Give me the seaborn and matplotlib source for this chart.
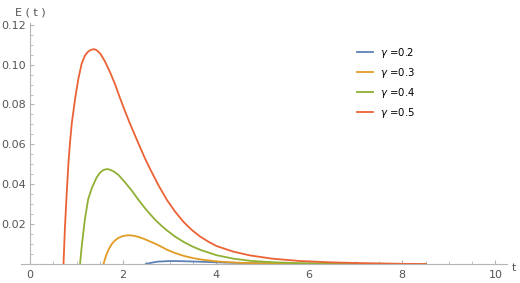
import pandas as pd
import seaborn as sb
import matplotlib.pyplot as plt
from matplotlib.ticker import MultipleLocator

# values
t_05 = [0.72, 0.75, 0.79, 0.824, 0.86, 0.90, 0.97, 1.04, 1.11, 1.18, 1.24, 1.30, 1.36,
        1.40, 1.45, 1.52, 1.61, 1.72, 1.83, 1.93, 2.04, 2.15, 2.26, 2.37, 2.47, 2.58,
        2.76, 2.94, 3.12, 3.30, 3.48, 3.66, 3.84, 4.01, 4.37, 4.73, 5.2, 5.8, 6.5, 7.2,
        8.0, 8.5]
e_05 = [0.0, 0.018, 0.036, 0.050, 0.061, 0.071, 0.083, 0.093, 0.1005, 0.1045, 0.1063,
        0.1073, 0.1077, 0.1076, 0.1069, 0.1052, 0.1016, 0.0962, 0.0900, 0.0835, 0.0767,
        0.0703, 0.0643, 0.0583, 0.0530, 0.0477, 0.0395, 0.0322, 0.0262, 0.0211, 0.0170,
        0.0137, 0.0111, 0.0090, 0.0062, 0.0043, 0.0027, 0.0015, 0.0008, 0.0004, 0.0001,
        0.0]

t_04 = [1.075, 1.11, 1.147, 1.18, 1.25, 1.33, 1.43, 1.50, 1.58, 1.66, 1.72, 1.80, 1.90,
        2.04, 2.19, 2.33, 2.47, 2.58, 2.69, 2.82, 2.94, 3.12, 3.30, 3.48, 3.66, 4.01,
        4.37, 4.73, 5.2, 5.8, 6.5, 8.5]
e_04 = [0.0, 0.0085, 0.016, 0.0225, 0.0325, 0.0382, 0.0433, 0.0457, 0.0472, 0.0476,
        0.0473, 0.0464, 0.0447, 0.0410, 0.0367, 0.0322, 0.0280, 0.0250, 0.0222, 0.0193,
        0.0169, 0.0137, 0.0111, 0.0089, 0.0071, 0.0044, 0.0027, 0.0016, 0.0009, 0.0004,
        0.0002, 0.0]

t_03 = [1.58, 1.61, 1.65, 1.70, 1.76, 1.83, 1.90, 1.98, 2.06, 2.14, 2.22, 2.33, 2.45,
        2.58, 2.69, 2.82, 2.94, 3.12, 3.30, 3.48, 3.66, 4.01, 4.5, 5.0, 6.0, 8.5]
e_03 = [0.0, 0.0025, 0.0052, 0.0078, 0.0101, 0.0119, 0.0131, 0.0139, 0.0143, 0.0144,
        0.0142, 0.0136, 0.0126, 0.0113, 0.0102, 0.0087, 0.0072, 0.0055, 0.0041, 0.0031,
        0.0023, 0.0013, 0.0006, 0.0003, 0.0001, 0.0]

t_02 = [2.49, 2.6, 2.75, 3.0, 3.3, 3.7, 4.2, 5.0, 6.0, 8.5]
e_02 = [0.0, 0.0006, 0.0012, 0.0015, 0.0014, 0.0011, 0.0007, 0.0003, 0.0001, 0.0]

gammas = ["0.2", "0.3", "0.4", "0.5"]
colors = ["#5E81B5", "#E19C24", "#8FB032", "#EB6235"]


def build_frame():
    parts = []
    for g, t, e in zip(gammas, [t_02, t_03, t_04, t_05], [e_02, e_03, e_04, e_05]):
        df = pd.DataFrame({"t": t, "E": e})
        df["gamma"] = r"$\gamma$ =" + g
        parts.append(df)
    return pd.concat(parts, ignore_index=True)


def main():
    data = build_frame()

    fig = plt.figure(figsize=(5.2, 2.83), dpi=100)
    ax = fig.add_axes([0.0398, 0.0671, 0.9352, 0.8505])

    sb.lineplot(
        data=data,
        x="t",
        y="E",
        hue="gamma",
        palette=colors,
        sort=False,
        estimator=None,
        linewidth=1.3,
        ax=ax,
    )

    ax.set_xlim(-0.2, 10.25)
    ax.set_ylim(0, 0.1207)

    axis_grey = "#b5b5b5"
    for side in ["top", "right"]:
        ax.spines[side].set_visible(False)
    ax.spines["left"].set_position(("data", 0))
    ax.spines["left"].set_color(axis_grey)
    ax.spines["bottom"].set_color(axis_grey)
    ax.spines["left"].set_linewidth(0.8)
    ax.spines["bottom"].set_linewidth(0.8)

    ax.xaxis.set_major_locator(MultipleLocator(2))
    ax.xaxis.set_minor_locator(MultipleLocator(0.5))
    ax.set_yticks([0.02, 0.04, 0.06, 0.08, 0.10, 0.12])
    ax.set_yticklabels(["0.02", "0.04", "0.06", "0.08", "0.10", "0.12"])
    ax.yaxis.set_minor_locator(MultipleLocator(0.005))
    ax.tick_params(which="both", direction="in", colors=axis_grey, labelcolor="#555555",
                   labelsize=8)
    ax.tick_params(which="major", length=3, width=0.8)
    ax.tick_params(which="minor", length=2, width=0.6)
    ax.tick_params(axis="x", pad=4)
    ax.tick_params(axis="y", pad=3)

    ax.set_xlabel("")
    ax.set_ylabel("")
    fig.text(0.028, 0.975, "E ( t )", fontsize=8, color="#555555", va="top", ha="left")
    fig.text(0.984, 0.035, "t", fontsize=8, color="#555555", va="bottom", ha="left")

    ax.legend(
        loc="upper left",
        bbox_to_anchor=(0.672, 0.945),
        frameon=False,
        fontsize=7.3,
        handlelength=1.6,
        handletextpad=0.7,
        labelspacing=0.6,
        title=None,
    )

    fig.savefig("out.png", dpi=100)
    print("[INFO] Created out.png")


if __name__ == "__main__":
    main()
